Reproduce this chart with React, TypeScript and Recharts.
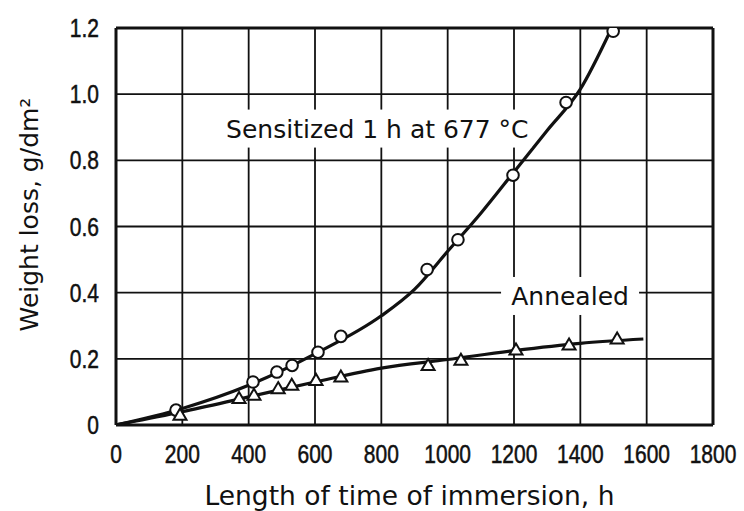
import {
  CartesianGrid,
  ComposedChart,
  Line,
  ReferenceDot,
  ReferenceLine,
  Scatter,
  XAxis,
  YAxis,
} from "recharts";

const X_TICKS = [0, 200, 400, 600, 800, 1000, 1200, 1400, 1600, 1800];
const Y_TICKS = [0, 0.2, 0.4, 0.6, 0.8, 1.0, 1.2];

// measured points
const sensitizedPoints = [
  { x: 181, y: 0.045 },
  { x: 413, y: 0.13 },
  { x: 485, y: 0.16 },
  { x: 531, y: 0.18 },
  { x: 609, y: 0.22 },
  { x: 678, y: 0.268 },
  { x: 938, y: 0.47 },
  { x: 1031, y: 0.56 },
  { x: 1197, y: 0.755 },
  { x: 1357, y: 0.975 },
  { x: 1499, y: 1.19 },
];

const annealedPoints = [
  { x: 193, y: 0.03 },
  { x: 371, y: 0.08 },
  { x: 416, y: 0.09 },
  { x: 489, y: 0.11 },
  { x: 530, y: 0.12 },
  { x: 603, y: 0.135 },
  { x: 678, y: 0.145 },
  { x: 941, y: 0.18 },
  { x: 1040, y: 0.196 },
  { x: 1206, y: 0.227 },
  { x: 1366, y: 0.242 },
  { x: 1511, y: 0.26 },
];

// fitted curves
const sensitizedCurve = [
  { x: 0, y: 0 },
  { x: 200, y: 0.05 },
  { x: 400, y: 0.12 },
  { x: 600, y: 0.215 },
  { x: 800, y: 0.33 },
  { x: 900, y: 0.41 },
  { x: 1000, y: 0.525 },
  { x: 1100, y: 0.64 },
  { x: 1200, y: 0.765 },
  { x: 1300, y: 0.89 },
  { x: 1400, y: 1.015 },
  { x: 1490, y: 1.19 },
];

const annealedCurve = [
  { x: 0, y: 0 },
  { x: 200, y: 0.04 },
  { x: 400, y: 0.085 },
  { x: 600, y: 0.13 },
  { x: 800, y: 0.172 },
  { x: 1000, y: 0.198 },
  { x: 1200, y: 0.225 },
  { x: 1400, y: 0.247 },
  { x: 1590, y: 0.26 },
];

const INK = "#111";
const SANS = "'DejaVu Sans', sans-serif";
const TICK_FONT = "'Liberation Sans', Arial, sans-serif";

const OpenCircle = (p: any) => (
  <circle cx={p.cx} cy={p.cy} r={5.8} fill="#fff" stroke={INK} strokeWidth={2} />
);

const OpenTriangle = (p: any) => {
  const s = 6.5;
  const pts = `${p.cx},${p.cy - s} ${p.cx + s},${p.cy + s * 0.7} ${p.cx - s},${p.cy + s * 0.7}`;
  return <polygon points={pts} fill="#fff" stroke={INK} strokeWidth={2} />;
};

// narrow tick digits like the original's condensed face
const XTick = ({ x, y, payload }: any) => (
  <text
    transform={`translate(${x},${y}) scale(0.84,1)`}
    dy="0.71em"
    textAnchor="middle"
    fontSize={25}
    fontFamily={TICK_FONT}
    fill={INK}
    stroke={INK}
    strokeWidth={0.5}
  >
    {payload.value}
  </text>
);

const YTick = ({ x, y, payload }: any) => (
  <text
    transform={`translate(${x},${y}) scale(0.84,1)`}
    dy="0.36em"
    textAnchor="end"
    fontSize={25}
    fontFamily={TICK_FONT}
    fill={INK}
    stroke={INK}
    strokeWidth={0.5}
  >
    {payload.value === 0 ? "0" : Number(payload.value).toFixed(1)}
  </text>
);

const BoxedText = (p: any) => (
  <g>
    <rect x={p.cx - p.w / 2} y={p.cy - 19} width={p.w} height={38} fill="#fff" />
    <text
      x={p.cx}
      y={p.cy}
      dy="0.36em"
      textAnchor="middle"
      fontSize={25}
      fontFamily={SANS}
      fill={INK}
    >
      {p.text}
    </text>
  </g>
);

const XTitle = ({ viewBox }: any) => (
  <text
    x={viewBox.x + viewBox.width / 2 - 5}
    y={viewBox.y + viewBox.height - 6}
    textAnchor="middle"
    fontSize={26.5}
    fontFamily={SANS}
    fill={INK}
  >
    Length of time of immersion, h
  </text>
);

const YTitle = ({ viewBox }: any) => {
  const cx = 38;
  const cy = viewBox.y + viewBox.height / 2 - 12;
  return (
    <text
      x={cx}
      y={cy}
      transform={`rotate(-90 ${cx} ${cy})`}
      textAnchor="middle"
      fontSize={25}
      fontFamily={SANS}
      fill={INK}
    >
      Weight loss, g/dm²
    </text>
  );
};

export default function App() {
  return (
    <div>
      <style>{"body{margin:0}"}</style>
      <ComposedChart
        width={744}
        height={511}
        margin={{ top: 28, right: 31, left: 0, bottom: 0 }}
        style={{ background: "#fff" }}
      >
        <CartesianGrid stroke={INK} strokeWidth={1.8} />
        <XAxis
          type="number"
          dataKey="x"
          domain={[0, 1800]}
          ticks={X_TICKS}
          allowDataOverflow
          height={86}
          tickSize={0}
          tickMargin={20}
          tickLine={false}
          axisLine={{ stroke: INK, strokeWidth: 3 }}
          tick={<XTick />}
          label={<XTitle />}
        />
        <YAxis
          type="number"
          dataKey="y"
          domain={[0, 1.2]}
          ticks={Y_TICKS}
          allowDataOverflow
          width={116}
          tickSize={0}
          tickMargin={17}
          tickLine={false}
          axisLine={{ stroke: INK, strokeWidth: 3 }}
          tick={<YTick />}
          label={<YTitle />}
        />
        <ReferenceLine y={1.2} stroke={INK} strokeWidth={3} />
        <ReferenceLine x={1800} stroke={INK} strokeWidth={3} />
        <ReferenceDot
          x={788}
          y={0.896}
          shape={(p: any) => <BoxedText {...p} w={308} text="Sensitized 1 h at 677 °C" />}
        />
        <ReferenceDot
          x={1369}
          y={0.39}
          shape={(p: any) => <BoxedText {...p} w={138} text="Annealed" />}
        />
        <Line
          data={sensitizedCurve}
          dataKey="y"
          type="monotone"
          stroke={INK}
          strokeWidth={3.2}
          dot={false}
          activeDot={false}
          isAnimationActive={false}
        />
        <Line
          data={annealedCurve}
          dataKey="y"
          type="monotone"
          stroke={INK}
          strokeWidth={3.2}
          dot={false}
          activeDot={false}
          isAnimationActive={false}
        />
        <Scatter data={sensitizedPoints} shape={OpenCircle} isAnimationActive={false} />
        <Scatter data={annealedPoints} shape={OpenTriangle} isAnimationActive={false} />
      </ComposedChart>
    </div>
  );
}
